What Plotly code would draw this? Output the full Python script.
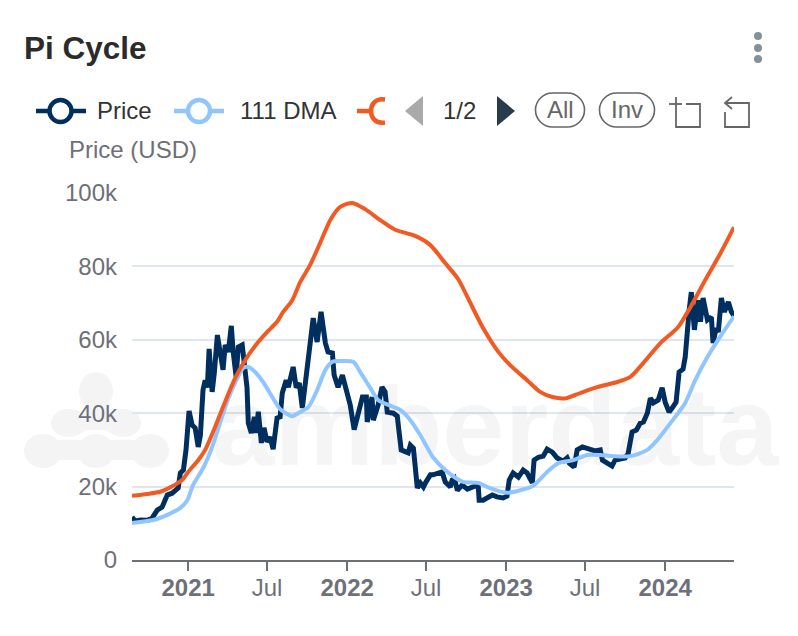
import pandas as pd
import plotly.graph_objects as go

W, H = 798, 636
BASE = pd.Timestamp("2021-01-01")

# Days counted from 1 Jan 2021, prices in thousands of USD
price_days = [-129,-122,-110,-94,-83,-71,-60,-48,-37,-30,-23,-18,-11,-5,2,9,16,23,28,34,39,44,48,55,60,67,74,80,85,92,99,103,110,115,124,131,135,138,145,152,156,161,168,174,181,188,195,204,211,216,225,230,241,248,255,262,269,276,280,287,296,305,315,321,331,335,344,354,363,372,381,388,400,409,411,422,425,436,445,452,457,471,480,484,489,505,510,517,521,526,533,540,546,556,562,572,583,590,602,606,611,618,629,641,659,666,668,677,698,709,723,732,737,746,758,769,778,790,794,804,815,824,836,847,861,870,875,886,893,905,918,934,946,951,962,973,980,992,1003,1010,1019,1029,1038,1045,1054,1061,1068,1079,1088,1095,1104,1111,1120,1127,1136,1141,1146,1150,1155,1162,1171,1176,1182,1192,1201,1205,1212,1217,1224,1231,1240,1247,1253]
price_k = [11.7,10.6,10.9,10.8,11.4,13.6,14.4,17.7,18.2,19,19.6,23.7,24.5,30,40.6,36.8,36,30.8,34,46.3,49,47,57.5,45.8,51,61.3,56,51.8,58.6,56.7,63.8,57,50,58,58.6,50,47,37.3,34.6,39,34.6,40.4,31.9,36,32.2,33.5,30.2,38.7,39,45.5,49,47.1,52.6,47,48.2,41.4,49,55.3,60,65.9,59.4,67.6,59.1,56.7,56.4,50.4,47.1,50.4,46.3,42.2,35.5,38.7,44.4,44.4,37.6,44.4,38.1,42.2,47.1,45.8,40.3,40,39.2,35,30,29.2,31.3,30.5,24,19.6,21,19.9,21.3,23.2,23.2,23.5,24,21.3,19.9,21.8,22.3,19,20.4,19.3,20.2,19.9,16.3,16.3,17.7,17.2,16.9,17.4,21.8,23.7,22.6,24.5,23.7,21,27.2,28,28.3,30.2,29.4,27.8,26.9,27.8,26.4,25.3,30,30.8,30.2,29.7,30,27.2,26.4,25.6,27.2,27.5,27.8,29,34.9,35.4,37.3,37.6,40,44.1,42.8,43.6,46.9,43,40.3,41.4,43,51.2,52,55.3,64,68,73,62.7,70.8,64.9,71.4,65.4,66.2,59.1,63.2,62.1,71.4,67.6,70.3,67.6,66.5]

dma111_days = [-129,-80,-48,-18,-2,11,34,55,73,92,113,126,138,154,172,193,211,227,239,257,276,296,315,331,349,379,395,418,436,471,487,510,533,562,595,631,666,693,732,762,792,824,850,884,916,946,976,1015,1054,1077,1107,1141,1164,1192,1221,1253]
dma111_k = [10.1,10.9,12.3,14.2,16.3,20.4,25,30.8,37.3,44,49.6,52.3,52.6,51.2,48.5,44.4,41.1,39.8,39.2,40.3,41.7,46.3,51.8,54,54.2,54,51.2,46.9,43.6,41.7,40.9,38.1,34,28,24,21.3,21,19.6,18.3,19,20.2,24,26.4,27.2,28.6,28.6,28.3,28.3,30,32.7,37.3,42.8,49,55.3,60.8,66.4]

dma350_days = [-129,-94,-64,-41,-14,0,23,39,57,80,108,131,158,181,204,218,239,257,280,303,326,349,377,406,441,475,521,556,590,620,652,677,712,739,778,808,836,868,900,939,985,1015,1045,1084,1125,1153,1187,1221,1253]
dma350_k = [17.5,18,18.6,19.8,21.8,24,27.2,30,34.9,41.7,49.6,54.5,59,62.1,64.9,67.6,70.8,75.7,80.4,86.4,92.6,96.2,97.3,95.6,92.6,90,88.3,85.8,80.9,76.5,69,63.2,56.7,53.1,49,45.8,44.4,44.1,45.5,47.1,48.5,49.9,53.7,59.1,63.5,68.9,76.3,83.4,90.7]

y_ticks = [0, 20000, 40000, 60000, 80000, 100000]
y_labels = ["0", "20k", "40k", "60k", "80k", "100k"]
x_ticks = ["2021-01-01","2021-07-01","2022-01-01","2022-07-01","2023-01-01","2023-07-01","2024-01-01"]
x_labels = ["<b>2021</b>","Jul","<b>2022</b>","Jul","<b>2023</b>","Jul","<b>2024</b>"]

NAVY, SKY, ORANGE = "#002F5F", "#90C5FF", "#F15A22"
GREY, INK, BTN = "#6E7079", "#333333", "#666666"
FONT = "Liberation Sans"
MARK = "#F4F4F5"

def dates(days):
    return BASE + pd.to_timedelta(days, unit="D")

def fx(px):
    return px / W

def fy(py):
    return 1 - py / H

def thousands(vals):
    return [v * 1000 for v in vals]

def path(points, close=False):
    d = "M" + " L".join(f"{fx(x):.5f},{fy(y):.5f}" for x, y in points)
    return d + (" Z" if close else "")

shapes, notes = [], []

def line(points, color, width):
    shapes.append(dict(type="path", path=path(points), xref="paper", yref="paper",
                       line=dict(color=color, width=width), fillcolor="rgba(0,0,0,0)", layer="above"))

def poly(points, color, layer="above"):
    shapes.append(dict(type="path", path=path(points, True), xref="paper", yref="paper",
                       line=dict(width=0), fillcolor=color, layer=layer))

def circle(cx, cy, rx, ry, fill, stroke=None, width=0, layer="above"):
    shapes.append(dict(type="circle", xref="paper", yref="paper",
                       x0=fx(cx - rx), x1=fx(cx + rx), y0=fy(cy + ry), y1=fy(cy - ry),
                       fillcolor=fill, line=dict(color=stroke or fill, width=width), layer=layer))

def pill(x0, x1, y0, y1):
    r = (y1 - y0) / 2
    k = r * 0.55
    d = (f"M{fx(x0+r):.5f},{fy(y0):.5f} L{fx(x1-r):.5f},{fy(y0):.5f} "
         f"C{fx(x1-r+k):.5f},{fy(y0):.5f} {fx(x1):.5f},{fy(y0+r-k):.5f} {fx(x1):.5f},{fy(y0+r):.5f} "
         f"C{fx(x1):.5f},{fy(y0+r+k):.5f} {fx(x1-r+k):.5f},{fy(y1):.5f} {fx(x1-r):.5f},{fy(y1):.5f} "
         f"L{fx(x0+r):.5f},{fy(y1):.5f} "
         f"C{fx(x0+r-k):.5f},{fy(y1):.5f} {fx(x0):.5f},{fy(y0+r+k):.5f} {fx(x0):.5f},{fy(y0+r):.5f} "
         f"C{fx(x0):.5f},{fy(y0+r-k):.5f} {fx(x0+r-k):.5f},{fy(y0):.5f} {fx(x0+r):.5f},{fy(y0):.5f} Z")
    shapes.append(dict(type="path", path=d, xref="paper", yref="paper",
                       line=dict(color=BTN, width=1.6), fillcolor="rgba(0,0,0,0)", layer="above"))

def text(px, py, s, size, color, anchor="left"):
    notes.append(dict(text=s, x=fx(px), y=fy(py), xref="paper", yref="paper", showarrow=False,
                      xanchor=anchor, yanchor="middle", align=anchor,
                      borderpad=0, font=dict(family=FONT, size=size, color=color)))

# Watermark logo
circle(96, 391, 17, 19, MARK, layer="below")
circle(69, 423, 18, 14, MARK, layer="below")
circle(123, 423, 18, 14, MARK, layer="below")
circle(43, 451, 19, 17, MARK, layer="below")
circle(96, 451, 19, 17, MARK, layer="below")
circle(150, 451, 19, 17, MARK, layer="below")
poly([(43, 440), (150, 440), (150, 460), (43, 460)], MARK, layer="below")
poly([(86, 405), (106, 405), (112, 430), (80, 430)], MARK, layer="below")

# Header and legend
text(23, 48.5, "<b>Pi Cycle</b>", 31.5, "#2B2B2B")
for cy in (36, 48, 59):
    circle(758, cy, 4, 4, "#84919A")

line([(36, 111), (86, 111)], NAVY, 4.5)
circle(60.5, 111, 11, 11, "white", NAVY, 4.5)
text(95.5, 110.5, "Price", 24, INK)
line([(174, 111), (224, 111)], SKY, 4.5)
circle(199, 111, 11, 11, "white", SKY, 4.5)
text(238.5, 110.5, "111 DMA", 24, INK)
line([(357, 111), (371, 111)], ORANGE, 4.5)
shapes.append(dict(type="path", xref="paper", yref="paper", layer="above",
                   path=(f"M{fx(385):.5f},{fy(99.5):.5f} C{fx(375):.5f},{fy(98):.5f} {fx(371):.5f},{fy(105):.5f} {fx(371):.5f},{fy(111):.5f} "
                         f"C{fx(371):.5f},{fy(117):.5f} {fx(375):.5f},{fy(124):.5f} {fx(385):.5f},{fy(122.5):.5f}"),
                   line=dict(color=ORANGE, width=4.5), fillcolor="rgba(0,0,0,0)"))

poly([(405, 111), (423, 96), (423, 126)], "#AAAAAA")
text(459.5, 110.5, "1/2", 24, INK, "center")
poly([(515, 111), (497, 96), (497, 126)], "#263B4B")
pill(535.5, 584.5, 93, 127)
text(560, 110, "All", 24, BTN, "center")
pill(599.5, 654.5, 93, 127)
text(627, 110, "Inv", 24, BTN, "center")

# Toolbox icons
line([(669, 104), (682, 104)], BTN, 1.8)
line([(676, 97), (676, 127), (700, 127), (700, 104), (686, 104)], BTN, 1.8)
line([(732, 97), (725, 103), (732, 109)], BTN, 1.8)
line([(725, 103), (749, 103), (749, 127), (725, 127), (725, 112)], BTN, 1.8)

text(67.5, 149.5, "Price (USD)", 24, GREY)

fig = go.Figure()
fig.add_trace(go.Scatter(x=dates([705]), y=[33500], mode="text", text=["<b>amberdata</b>"], hoverinfo="skip",
                         textposition="middle center", cliponaxis=False, showlegend=False,
                         textfont=dict(family=FONT, size=112, color="rgba(20,20,50,0.045)")))
fig.add_trace(go.Scatter(x=dates(price_days), y=thousands(price_k), name="Price", mode="lines",
                         line=dict(color=NAVY, width=5)))
fig.add_trace(go.Scatter(x=dates(dma111_days), y=thousands(dma111_k), name="111 DMA", mode="lines",
                         line=dict(color=SKY, width=4, shape="spline", smoothing=0.7)))
fig.add_trace(go.Scatter(x=dates(dma350_days), y=thousands(dma350_k), name="350 DMA x 2", mode="lines",
                         line=dict(color=ORANGE, width=4, shape="spline", smoothing=0.7)))

fig.update_layout(
    width=W, height=H, margin=dict(l=0, r=0, t=0, b=0, pad=0, autoexpand=False), showlegend=False,
    paper_bgcolor="rgba(0,0,0,0)", plot_bgcolor="rgba(0,0,0,0)",
    font=dict(family=FONT, color=GREY, size=24),
    shapes=shapes, annotations=notes,
    xaxis=dict(domain=[132 / W, 734 / W], range=["2020-08-25", "2024-06-07"], type="date", automargin=False,
               tickmode="array", tickvals=x_ticks, ticktext=x_labels, ticks="outside",
               ticklen=9, tickwidth=2, tickcolor=GREY, showgrid=False, zeroline=False,
               showline=True, linecolor=GREY, linewidth=2, ticklabelstandoff=-4,
               tickfont=dict(family=FONT, size=24, color=GREY)),
    yaxis=dict(domain=[1 - 560 / H, 1 - 193 / H], range=[0, 100000], tickmode="array", automargin=False,
               tickvals=y_ticks, ticktext=y_labels, showgrid=True, gridcolor="#E0E6F1", gridwidth=2,
               zeroline=False, showline=False, ticks="", ticklabelstandoff=14,
               tickfont=dict(family=FONT, size=24, color=GREY)),
)
fig.write_html("out.html", config=dict(displayModeBar=False),
               post_script="document.body.style.margin='0';")
